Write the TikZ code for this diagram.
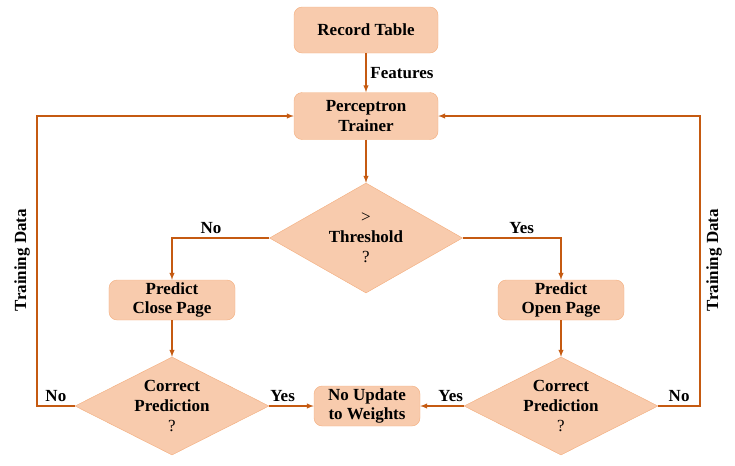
\documentclass[tikz,border=0pt]{standalone}
\usepackage{fontspec}
\setmainfont{Liberation Serif}
\usetikzlibrary{arrows,shapes.geometric}
\definecolor{boxfill}{HTML}{F8CBAD}
\definecolor{boxline}{HTML}{F4B183}
\definecolor{flowline}{HTML}{C55A11}
\newcommand\fsz{\fontsize{14.5}{17}\selectfont}

\begin{document}
\begin{tikzpicture}[x=0.03cm,y=-0.03cm,>=latex,
		blk/.style={draw=boxline,fill=boxfill,rounded corners=7pt,align=center,font=\bfseries\fsz,inner sep=0pt},
		dec/.style={diamond,draw=boxline,fill=boxfill,align=center,font=\bfseries\fsz,inner sep=0pt},
		flow/.style={draw=flowline,line width=1pt,->},
		lbl/.style={font=\bfseries\fsz}]
			\useasboundingbox (0,0) rectangle (735,465);
			
			\node[blk,minimum width=4.32cm,minimum height=1.38cm] (rec) at (366,30) {Record Table};
			\node[blk,minimum width=4.32cm,minimum height=1.41cm] (train) at (366,116) {Perceptron\\Trainer};
			\node[dec,aspect=1.75,minimum width=5.79cm,minimum height=3.3cm] (thr) at (366,238) {{\normalfont >}\\Threshold\\{\normalfont ?}};
			
			\node[blk,minimum width=3.78cm,minimum height=1.2cm] (pclose) at (172,300) {Predict\\Close Page};
			\node[blk,minimum width=3.78cm,minimum height=1.2cm] (popen) at (561,300) {Predict\\Open Page};
			
			\node[dec,aspect=2,minimum width=5.82cm,minimum height=2.94cm] (cleft) at (172,406) {Correct\\Prediction\\{\normalfont ?}};
			\node[dec,aspect=2,minimum width=5.82cm,minimum height=2.94cm] (cright) at (561,406) {Correct\\Prediction\\{\normalfont ?}};
			\node[blk,minimum width=3.18cm,minimum height=1.2cm] (noupd) at (367,406) {No Update\\to Weights};
			
			\draw[flow] (rec) -- node[lbl,right] {Features} (train);
			\draw[flow] (train) -- (thr);
			\draw[flow] (thr.west) -| node[lbl,above,pos=.3] {No} (pclose.north);
			\draw[flow] (thr.east) -| node[lbl,above,pos=.3] {Yes} (popen.north);
			\draw[flow] (pclose) -- (cleft);
			\draw[flow] (popen) -- (cright);
			\draw[flow] (cleft.east) -- node[lbl,above,pos=.3] {Yes} (noupd.west);
			\draw[flow] (cright.west) -- node[lbl,above,pos=.3] {Yes} (noupd.east);
			
			\coordinate (lb) at (37,406); \coordinate (lt) at (37,116);
			\coordinate (rb) at (700,406); \coordinate (rt) at (700,116);
			\draw[flow] (cleft.west) -- node[lbl,above] {No} (lb) -- (lt) -- (train.west);
			\draw[flow] (cright.east) -- node[lbl,above] {No} (rb) -- (rt) -- (train.east);
			\node[lbl,rotate=90] (tdl) at (22,260) {Training Data};
			\node[lbl,rotate=90] (tdr) at (714,260) {Training Data};
\end{tikzpicture}
\end{document}
